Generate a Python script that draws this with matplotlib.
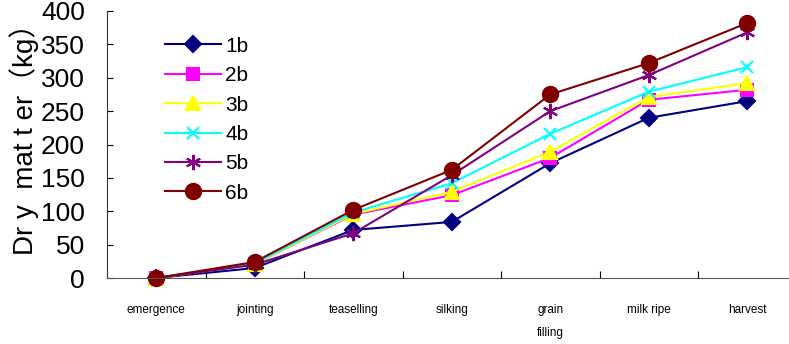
import matplotlib.pyplot as plt
import numpy as np

# growth stages and dry matter per treatment
stages = ['emergence', 'jointing', 'teaselling', 'silking', 'grain\nfilling', 'milk ripe', 'harvest']
labels = ['1b', '2b', '3b', '4b', '5b', '6b']
dm_1b = [0, 15, 72, 84, 172, 240, 265]
dm_2b = [0, 21, 95, 124, 180, 267, 282]
dm_3b = [0, 21, 96, 129, 189, 271, 292]
dm_4b = [0, 22, 98, 142, 216, 279, 316]
dm_5b = [0, 20, 67, 154, 250, 304, 368]
dm_6b = [0, 24, 102, 162, 275, 322, 382]

series = [dm_1b, dm_2b, dm_3b, dm_4b, dm_5b, dm_6b]
colors = ['#000080', '#FF00FF', '#FFFF00', '#00FFFF', '#800080', '#800000']
markers = ['D', 's', '^', 'x', (6, 2, 0), 'o']
msizes = [8, 9, 10, 9, 11, 11]

plt.rcParams['font.family'] = ['Liberation Sans', 'Noto Sans CJK SC', 'DejaVu Sans']

fig = plt.figure(figsize=(7.89, 3.44), dpi=100)
ax = fig.add_axes([107 / 789, 66 / 344, 689.5 / 789, 267 / 344])

x = np.arange(len(stages))
for vals, lab, c, m, ms in zip(series, labels, colors, markers, msizes):
    ax.plot(x, vals, color=c, marker=m, markersize=ms, lw=1.5, label=lab,
            markeredgecolor=c, markeredgewidth=1.5, clip_on=False)

ax.set_xlim(-0.5, 6.5)
ax.set_ylim(0, 400)
ax.set_yticks(range(0, 401, 50))
ax.tick_params(axis='y', direction='in', labelsize=19, length=4, pad=16)
ax.set_xticks(np.arange(0.5, 6.5, 1))
ax.set_xticklabels([])
ax.set_xticks(x, minor=True)
ax.set_xticklabels(stages, minor=True, fontsize=8.5, linespacing=2.2, va='top')
ax.tick_params(axis='x', which='major', direction='in', length=5)
ax.tick_params(axis='x', which='minor', length=0, pad=19)
for s in ['top', 'right']:
    ax.spines[s].set_visible(False)
ax.spines['left'].set_color('#333333')
ax.spines['bottom'].set_color('#555555')

ax.set_ylabel('Dr y  mat t er（kg）', fontsize=20)
ax.yaxis.set_label_coords(-0.098, 0.545)

ax.legend(loc='upper left', bbox_to_anchor=(0.072, 0.935), frameon=False,
          fontsize=15, handlelength=2.7, labelspacing=0.5, handletextpad=0.2,
          borderaxespad=0)

fig.savefig('out.png', dpi=100)
